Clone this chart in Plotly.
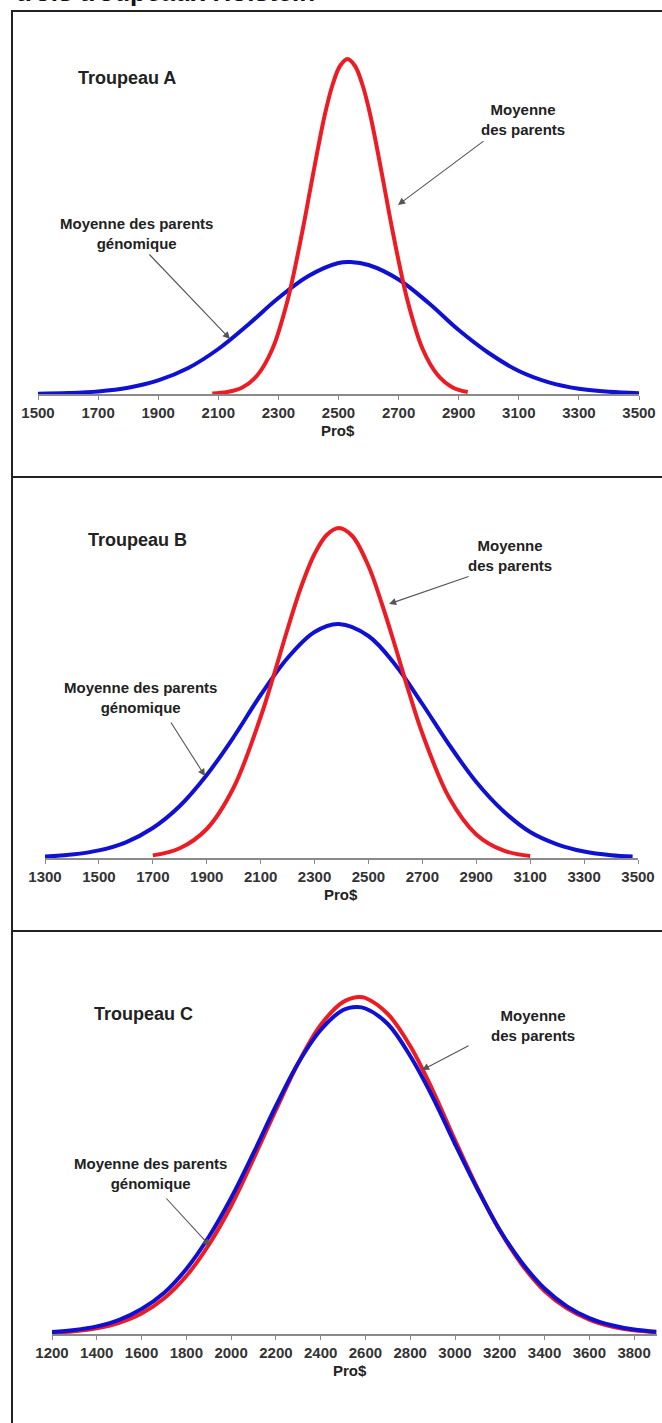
import plotly.graph_objects as go

# ---------------- data ----------------
# Troupeau A
xA_red = [2080, 2130, 2180, 2230, 2280, 2330, 2380, 2405, 2430, 2455, 2480, 2505, 2530, 2555, 2580, 2605, 2630, 2655, 2680, 2730, 2780, 2830, 2880, 2930]
yA_red = [0.5, 2.0, 6.6, 18.8, 45, 93, 163, 203, 243, 280, 309, 328, 335, 328, 309, 280, 243, 203, 163, 93, 45, 19, 6.6, 2.0]
xA_blue = [1500, 1600, 1700, 1800, 1900, 2000, 2100, 2200, 2300, 2400, 2500, 2540, 2600, 2700, 2800, 2900, 3000, 3100, 3200, 3300, 3400, 3500]
yA_blue = [0.3, 1.0, 2.6, 6.3, 13.6, 26, 45, 69.5, 96, 118, 131, 132, 129, 114.5, 91, 64, 41, 23, 11.7, 5.3, 2.2, 0.8]

# Troupeau B
xB_red = [1700, 1800, 1900, 2000, 2100, 2150, 2200, 2250, 2300, 2345, 2390, 2440, 2500, 2550, 2600, 2650, 2700, 2800, 2900, 3000, 3100]
yB_red = [2.6, 9.7, 29, 70.5, 141, 184, 229, 271, 304, 323, 330, 322, 292, 254, 211, 166, 124.5, 60, 23.6, 7.6, 2.0]
xB_blue = [1300, 1400, 1500, 1600, 1700, 1800, 1900, 2000, 2100, 2200, 2300, 2390, 2500, 2600, 2700, 2800, 2900, 3000, 3100, 3200, 3300, 3400, 3480]
yB_blue = [1.4, 3.4, 7.6, 15.7, 30, 52, 83, 121, 163, 200, 226, 234, 222, 193, 154, 113, 76, 47, 26, 13.7, 6.5, 2.8, 1.4]

# Troupeau C
xC_red = [1200, 1300, 1400, 1500, 1600, 1700, 1800, 1900, 2000, 2100, 2200, 2300, 2400, 2500, 2570, 2600, 2700, 2800, 2900, 3000, 3100, 3200, 3300, 3400, 3500, 3600, 3700, 3800, 3900]
yC_red = [1.3, 2.8, 5.7, 11.2, 20.5, 35.5, 58, 89, 128, 175, 224, 271, 309, 332, 337, 336, 320, 288, 244, 194, 146, 103.5, 69, 43, 25.7, 14.4, 7.5, 3.7, 1.7]
xC_blue = [1200, 1300, 1400, 1500, 1600, 1700, 1800, 1900, 2000, 2100, 2200, 2300, 2400, 2500, 2560, 2600, 2700, 2800, 2900, 3000, 3100, 3200, 3300, 3400, 3500, 3600, 3700, 3800, 3900]
yC_blue = [1.9, 3.9, 7.6, 14.2, 25, 41, 65, 97, 136, 181, 228, 271, 304, 324, 327, 325.5, 310, 278, 237, 190, 145, 104, 71, 45.5, 27.7, 15.9, 8.7, 4.4, 2.2]

ticksA = [1500, 1700, 1900, 2100, 2300, 2500, 2700, 2900, 3100, 3300, 3500]
ticksB = [1300, 1500, 1700, 1900, 2100, 2300, 2500, 2700, 2900, 3100, 3300, 3500]
ticksC = [1200, 1400, 1600, 1800, 2000, 2200, 2400, 2600, 2800, 3000, 3200, 3400, 3600, 3800]

series_name_parents = "Moyenne des parents"
series_name_genomic = "Moyenne des parents génomique"
panel_titles = ["Troupeau A", "Troupeau B", "Troupeau C"]
x_title = "Pro$"
page_title = "trois troupeaux Holstein"

# ---------------- layout helpers ----------------
W, H = 662, 1423
RED = "#ec1c24"
BLUE = "#1010d2"
FONT = "Liberation Sans"


def px(x):
    return x / W


def py(y):
    return 1 - y / H


fig = go.Figure()

panels = [
    dict(xr=[1500, 3500], xp=(38, 639), axis=394, ticks=ticksA,
         curves=[(xA_blue, yA_blue, BLUE, series_name_genomic), (xA_red, yA_red, RED, series_name_parents)]),
    dict(xr=[1300, 3500], xp=(45, 638), axis=858, ticks=ticksB,
         curves=[(xB_blue, yB_blue, BLUE, series_name_genomic), (xB_red, yB_red, RED, series_name_parents)]),
    dict(xr=[1200, 3900], xp=(52, 656.5), axis=1334, ticks=ticksC,
         curves=[(xC_red, yC_red, RED, series_name_parents), (xC_blue, yC_blue, BLUE, series_name_genomic)]),
]

YSPAN = 370
for i, p in enumerate(panels, start=1):
    xa = "x" if i == 1 else f"x{i}"
    ya = "y" if i == 1 else f"y{i}"
    for xs, ys, col, nm in p["curves"]:
        fig.add_trace(go.Scatter(x=xs, y=ys, mode="lines", name=nm,
                                 line=dict(color=col, width=4, shape="spline", smoothing=1.0),
                                 xaxis=xa, yaxis=ya, showlegend=False, hoverinfo="skip"))
    xkey = "xaxis" if i == 1 else f"xaxis{i}"
    ykey = "yaxis" if i == 1 else f"yaxis{i}"
    fig.update_layout(**{
        xkey: dict(domain=[px(p["xp"][0]), px(p["xp"][1])], range=p["xr"],
                   anchor=ya, showline=True, linecolor="#8a8a8a", linewidth=1.5,
                   ticks="outside", ticklen=4, tickwidth=1, tickcolor="#8a8a8a",
                   tickvals=p["ticks"], ticktext=[str(t) for t in p["ticks"]],
                   tickfont=dict(family=FONT, size=15, color="#333333", weight="bold"),
                   showgrid=False, zeroline=False, fixedrange=True, automargin=False),
        ykey: dict(domain=[py(p["axis"]), py(p["axis"] - YSPAN)], range=[0, YSPAN],
                   anchor=xa, visible=False, showgrid=False, zeroline=False, fixedrange=True),
    })

annotations = []


def text(x, y, t, size=15, xanchor="center"):
    annotations.append(dict(x=px(x), y=py(y), xref="paper", yref="paper", text=t,
                            showarrow=False, xanchor=xanchor, yanchor="middle", align="center",
                            font=dict(family=FONT, size=size, color="#222222", weight="bold")))


def arrow(tail, tip):
    annotations.append(dict(x=px(tip[0]), y=py(tip[1]), xref="paper", yref="paper", text="",
                            showarrow=True, ax=tail[0] - tip[0], ay=tail[1] - tip[1],
                            axref="pixel", ayref="pixel", arrowhead=2, arrowsize=1.3,
                            arrowwidth=1.1, arrowcolor="#555555", standoff=0, startstandoff=0))


# page title, cut off at the top edge as in the source image
annotations.append(dict(x=px(14), y=py(9.5), xref="paper", yref="paper", text=page_title,
                        showarrow=False, xanchor="left", yanchor="bottom",
                        font=dict(family=FONT, size=26, color="#111111", weight="bold")))

text(127, 78, panel_titles[0], size=18)
text(137, 540, panel_titles[1], size=18)
text(143, 1014, panel_titles[2], size=18)

gen_txt = "Moyenne des parents<br>génomique"
par_txt = "Moyenne<br>des parents"
text(136, 233, gen_txt)
arrow((148, 253), (230, 339))
text(523, 120, par_txt)
arrow((485, 140), (398, 205))

text(140, 697, gen_txt)
arrow((170, 721), (205, 776))
text(510, 556, par_txt)
arrow((470, 576), (389, 604))

text(150, 1173, gen_txt)
arrow((165, 1197), (210, 1246))
text(533, 1025, par_txt)
arrow((470, 1045), (422, 1070))

text(338, 430, x_title)
text(341, 894, x_title)
text(350, 1370, x_title)

fig.update_layout(annotations=annotations)

shapes = [
    dict(type="rect", xref="paper", yref="paper", x0=px(12), x1=px(680), y0=py(1440), y1=py(11),
         line=dict(color="#222222", width=2)),
    dict(type="line", xref="paper", yref="paper", x0=px(12), x1=px(680), y0=py(477), y1=py(477),
         line=dict(color="#222222", width=2)),
    dict(type="line", xref="paper", yref="paper", x0=px(12), x1=px(680), y0=py(931), y1=py(931),
         line=dict(color="#222222", width=2)),
]
fig.update_layout(shapes=shapes)

fig.update_layout(width=W, height=H, margin=dict(l=0, r=0, t=0, b=0, autoexpand=False),
                  paper_bgcolor="white", plot_bgcolor="white", showlegend=False)

fig.write_html("out.html", config={"displayModeBar": False},
               post_script="document.body.style.margin='0';document.body.style.overflow='hidden';")
